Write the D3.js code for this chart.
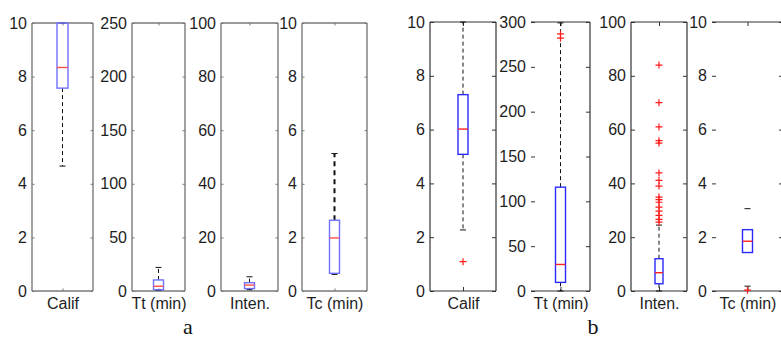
<!DOCTYPE html>
<html><head><meta charset="utf-8">
<script src="https://cdn.jsdelivr.net/npm/d3@7"></script>
<style>body{margin:0;background:#fff} svg{display:block}</style>
</head><body>
<svg id="c" width="781" height="341"></svg>
<script>
// ---------- data ----------
const categories = ["Calif", "Tt (min)", "Inten.", "Tc (min)"];
const panelLabels = ["a", "b"];
const yMaxA = [10, 250, 100, 10];
const yMaxB = [10, 300, 100, 10];
const ticksA = [[0,2,4,6,8,10],[0,50,100,150,200,250],[0,20,40,60,80,100],[0,2,4,6,8,10]];
const ticksB = [[0,2,4,6,8,10],[0,50,100,150,200,250,300],[0,20,40,60,80,100],[0,2,4,6,8,10]];
// panel a box stats
const loA  = [4.66, 0.6, 0.5, 0.62];
const q1A  = [7.57, 1.2, 0.9, 0.66];
const medA = [8.34, 4.4, 2.2, 1.98];
const q3A  = [10.0, 10.3, 3.1, 2.64];
const hiA  = [10.0, 22.0, 5.3, 5.13];
// panel b box stats
const loB  = [2.27, 0, 0, 0.18];
const q1B  = [5.08, 9.6, 2.7, 1.43];
const medB = [6.02, 29.6, 6.8, 1.85];
const q3B  = [7.30, 115.8, 12.0, 2.28];
const hiB  = [10.0, 299, 24.5, 3.06];
const outCalifB = [1.09];
const outTtB = [286.7, 282.0];
const outIntenB = [84, 70, 61, 55.9, 55, 43.9, 41.1, 39, 34.9, 34, 33, 31.2, 29.7, 28.1, 26.6, 25.6];
const outTcB = [0.03];

// ---------- layout / style ----------
const svg = d3.select("#c");
const font = "'Liberation Sans', Arial, sans-serif";
const panels = [
  { lefts:[32,132,221,302], rights:[93,185,278,367], top:23, bottom:291,
    yMax:yMaxA, ticks:ticksA, lo:loA, q1:q1A, med:medA, q3:q3A, hi:hiA,
    outs:[[],[],[],[]], frame:"#7a7a7a", frameW:1.4, tickLen:2.5, tickCol:"#777",
    boxCol:"#7070ff", medCol:"#ff5050", boxW:[11,10,10,10],
    whiskerW:[1,1,1,2], noLeft:[false,false,false,false], showWhisk:[true,true,true,true],
    label:{x:188, y:334} },
  { lefts:[430,531,631,712], rights:[496,590,687,783], top:22, bottom:291,
    yMax:yMaxB, ticks:ticksB, lo:loB, q1:q1B, med:medB, q3:q3B, hi:hiB,
    outs:[outCalifB,outTtB,outIntenB,outTcB], frame:"#333", frameW:1.2, tickLen:4, tickCol:"#333",
    boxCol:"#2a2aff", medCol:"#ff2020", boxW:[10,10,8,10],
    whiskerW:[1,1,1,1], noLeft:[false,true,false,true], showWhisk:[true,true,true,false],
    label:{x:593, y:334} }
];

panels.forEach((P, pi) => {
  categories.forEach((cat, i) => {
    const L = P.lefts[i], R = P.rights[i];
    const g = svg.append("g");
    const y = d3.scaleLinear().domain([0, P.yMax[i]]).range([P.bottom, P.top]);
    const x = d3.scalePoint().domain([cat]).range([L, R]).padding(0.5);
    const cx = x(cat);

    const ax = g.append("g").attr("transform", `translate(${L},0)`)
      .call(d3.axisLeft(y).tickValues(P.ticks[i]).tickSize(-P.tickLen).tickPadding(5).tickFormat(d3.format("d")));
    const axR = g.append("g").attr("transform", `translate(${R},0)`)
      .call(d3.axisRight(y).tickValues(P.ticks[i]).tickSize(-P.tickLen).tickFormat(""));
    const axB = g.append("g").attr("transform", `translate(0,${P.bottom})`)
      .call(d3.axisBottom(x).tickSize(-P.tickLen).tickPadding(7));
    const axT = g.append("g").attr("transform", `translate(0,${P.top})`)
      .call(d3.axisTop(x).tickSize(-P.tickLen).tickFormat(""));
    [ax, axR, axB, axT].forEach(a => {
      a.select(".domain").remove();
      a.selectAll(".tick line").attr("stroke", P.tickCol).attr("stroke-width", 1);
      a.selectAll("text").attr("font-family", font).attr("font-size", 16).attr("fill", "#1e1e1e");
    });

    const fr = g.append("g").attr("stroke", P.frame).attr("stroke-width", P.frameW).attr("fill", "none");
    fr.append("line").attr("x1", L).attr("x2", R).attr("y1", P.top).attr("y2", P.top);
    fr.append("line").attr("x1", L).attr("x2", R).attr("y1", P.bottom).attr("y2", P.bottom);
    fr.append("line").attr("x1", R).attr("x2", R).attr("y1", P.top).attr("y2", P.bottom);
    if (!P.noLeft[i]) fr.append("line").attr("x1", L).attr("x2", L).attr("y1", P.top).attr("y2", P.bottom);

    const bw = P.boxW[i], cw = 6;
    if (P.showWhisk[i]) {
      const dash = P.whiskerW[i] > 1 ? "5,4" : "4,3";
      g.append("line").attr("x1", cx).attr("x2", cx).attr("y1", y(P.q3[i])).attr("y2", y(P.hi[i]))
        .attr("stroke", "#111").attr("stroke-width", P.whiskerW[i]).attr("stroke-dasharray", dash);
      g.append("line").attr("x1", cx).attr("x2", cx).attr("y1", y(P.q1[i])).attr("y2", y(P.lo[i]))
        .attr("stroke", "#111").attr("stroke-width", P.whiskerW[i]).attr("stroke-dasharray", dash);
    }
    [P.hi[i], P.lo[i]].forEach(v => {
      g.append("line").attr("x1", cx - cw/2).attr("x2", cx + cw/2).attr("y1", y(v)).attr("y2", y(v))
        .attr("stroke", "#111").attr("stroke-width", 1);
    });
    g.append("rect").attr("x", cx - bw/2).attr("width", bw)
      .attr("y", y(P.q3[i])).attr("height", y(P.q1[i]) - y(P.q3[i]))
      .attr("fill", "none").attr("stroke", P.boxCol).attr("stroke-width", 1.4);
    g.append("line").attr("x1", cx - bw/2).attr("x2", cx + bw/2).attr("y1", y(P.med[i])).attr("y2", y(P.med[i]))
      .attr("stroke", P.medCol).attr("stroke-width", 1.4);
    const s = 3.5;
    P.outs[i].forEach(v => {
      const yy = y(v);
      g.append("path").attr("d", `M${cx - s},${yy}H${cx + s}M${cx},${yy - s}V${yy + s}`)
        .attr("stroke", "#ff1a1a").attr("stroke-width", 1.2).attr("fill", "none");
    });
  });
  svg.append("text").attr("x", P.label.x).attr("y", P.label.y).attr("text-anchor", "middle")
    .attr("font-family", "'Liberation Serif', 'Times New Roman', serif").attr("font-size", 22)
    .attr("fill", "#111").text(panelLabels[pi]);
});
</script>
</body></html>
